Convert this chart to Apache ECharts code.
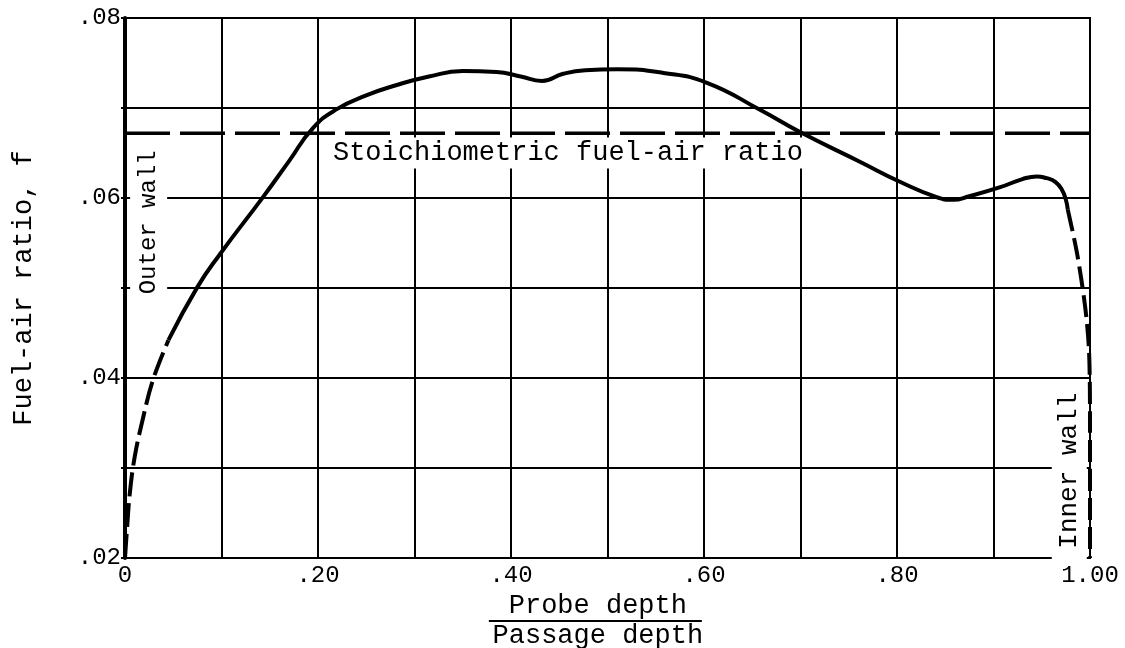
<!DOCTYPE html>
<html><head><meta charset="utf-8">
<script src="https://cdn.jsdelivr.net/npm/echarts@6/dist/echarts.min.js"></script>
<style>html,body{margin:0;padding:0;background:#fff}#c{width:1125px;height:648px}</style>
</head><body><div id="c"></div>
<script>
const FONT = '"Liberation Mono", "DejaVu Sans Mono", monospace';

// Tick labels
const xTickValues = [0, 0.2, 0.4, 0.6, 0.8, 1.0];
const xTickLabels = ['0', '.20', '.40', '.60', '.80', '1.00'];
const yTickValues = [0.02, 0.04, 0.06, 0.08];
const yTickLabels = ['.02', '.04', '.06', '.08'];

// Series values [probe depth / passage depth, fuel-air ratio]
const outerWallDashed = [[0,0.0200],[0.002,0.0231],[0.005,0.0272],[0.010,0.0312],[0.019,0.0357],[0.029,0.0398],[0.045,0.0442]];
const measuredCurve = [[0.045,0.0442],[0.075,0.0501],[0.098,0.0537],[0.143,0.0601],[0.170,0.0641],[0.195,0.0678],[0.220,0.0699],[0.250,0.0714],[0.280,0.0725],[0.315,0.0735],[0.350,0.0741],[0.385,0.0740],[0.410,0.0735],[0.432,0.0730],[0.454,0.0738],[0.477,0.0742],[0.510,0.0743],[0.558,0.0739],[0.603,0.0728],[0.658,0.0698],[0.700,0.0673],[0.762,0.0640],[0.803,0.0618],[0.841,0.0601],[0.858,0.0598],[0.875,0.0602],[0.907,0.0612],[0.930,0.0621],[0.945,0.0624],[0.955,0.0622],[0.964,0.0618],[0.971,0.0609],[0.975,0.0598],[0.977,0.0587]];
const innerWallDashed = [[0.977,0.0587],[0.9865,0.0539],[0.995,0.0479],[0.999,0.0430],[1.0,0.0350],[1.0,0.0200]];
const stoichiometric = [[0,0.0672],[1,0.0672]];

// Annotation texts and anchor values
const stoichLabel = 'Stoichiometric fuel-air ratio';
const stoichLabelAt = [0.2155, 0.0650];
const outerLabel = 'Outer wall';
const outerLabelAt = [0.0245, 0.0573];
const innerLabel = 'Inner wall';
const innerLabelAt = [0.9785, 0.0292];
const xNameTop = 'Probe depth';
const xNameBottom = 'Passage depth';
const yName = 'Fuel-air ratio, f';

function findLabel(vals, labels, v) {
  for (let i = 0; i < vals.length; i++) if (Math.abs(vals[i] - v) < 1e-9) return labels[i];
  return '';
}

const chart = echarts.init(document.getElementById('c'), null, {renderer: 'canvas'});
const option = {
  backgroundColor: '#fff',
  animation: false,
  grid: {left: 125, right: 35, top: 18, bottom: 90, show: true, borderColor: '#000', borderWidth: 2},
  xAxis: {
    type: 'value', min: 0, max: 1, interval: 0.1,
    axisLine: {show: true, lineStyle: {color: '#000', width: 2}},
    axisTick: {show: false},
    splitLine: {show: true, lineStyle: {color: '#000', width: 2}},
    axisLabel: {color: '#000', fontFamily: FONT, fontSize: 24, margin: 6,
      formatter: v => findLabel(xTickValues, xTickLabels, v)}
  },
  yAxis: {
    type: 'value', min: 0.02, max: 0.08, interval: 0.01,
    name: yName, nameLocation: 'middle', nameGap: 88, nameRotate: 90,
    nameTextStyle: {color: '#000', fontFamily: FONT, fontSize: 27},
    axisLine: {show: true, lineStyle: {color: '#000', width: 4}},
    axisTick: {show: true, length: 4, lineStyle: {color: '#000', width: 2}},
    splitLine: {show: true, lineStyle: {color: '#000', width: 2}},
    axisLabel: {color: '#000', fontFamily: FONT, fontSize: 24, margin: 4,
      formatter: v => findLabel(yTickValues, yTickLabels, Math.round(v * 1000) / 1000)}
  },
  series: [
    {type: 'line', data: stoichiometric, symbol: 'none', z: 3,
      lineStyle: {color: '#000', width: 3.5, type: [45, 10]}},
    {type: 'line', data: outerWallDashed, symbol: 'none', smooth: 0.4, z: 4,
      lineStyle: {color: '#000', width: 4, type: [24, 7]}},
    {type: 'line', data: measuredCurve, symbol: 'none', smooth: 0.5, z: 4,
      lineStyle: {color: '#000', width: 4}},
    {type: 'line', data: innerWallDashed, symbol: 'none', smooth: 0.3, z: 4,
      lineStyle: {color: '#000', width: 4, type: [22, 7]}}
  ]
};
chart.setOption(option);

const p = v => chart.convertToPixel({gridIndex: 0}, v);
const sp = p(stoichLabelAt), op = p(outerLabelAt), ip = p(innerLabelAt);
const fracC = p([0.49, 0.02]);
chart.setOption({
  graphic: [
    {type: 'text', z: 10, x: sp[0], y: sp[1], style: {text: stoichLabel, font: '27px ' + FONT, fill: '#000',
      align: 'left', verticalAlign: 'middle', backgroundColor: '#fff', padding: [2, 0, 2, 0]}},
    {type: 'text', z: 10, x: op[0], y: op[1], rotation: Math.PI / 2, style: {text: outerLabel, font: '24px ' + FONT, fill: '#000',
      align: 'center', verticalAlign: 'middle', backgroundColor: '#fff', padding: [10, 2, 3, 2]}},
    {type: 'text', z: 10, x: ip[0], y: ip[1], rotation: Math.PI / 2, style: {text: innerLabel, font: '26px ' + FONT, fill: '#000',
      align: 'center', verticalAlign: 'middle', backgroundColor: '#fff', padding: [2, 3, 7, 12]}},
    {type: 'text', x: fracC[0], y: fracC[1] + 48, style: {text: xNameTop, font: '27px ' + FONT, fill: '#000',
      align: 'center', verticalAlign: 'middle'}},
    {type: 'line', shape: {x1: fracC[0] - 109, y1: fracC[1] + 63, x2: fracC[0] + 104, y2: fracC[1] + 63},
      style: {stroke: '#000', lineWidth: 2}},
    {type: 'text', x: fracC[0], y: fracC[1] + 78, style: {text: xNameBottom, font: '27px ' + FONT, fill: '#000',
      align: 'center', verticalAlign: 'middle'}}
  ]
});
</script></body></html>
